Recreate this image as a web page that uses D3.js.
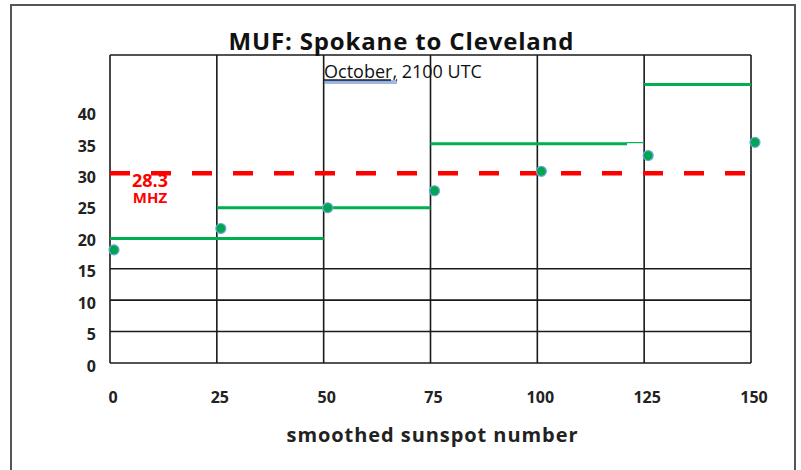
<!DOCTYPE html>
<html>
<head>
<meta charset="utf-8">
<script src="https://cdn.jsdelivr.net/npm/d3@7.9.0/dist/d3.min.js"></script>
<style>
  body { margin: 0; background: #fff; }
  svg { display: block; font-family: "Open Sans", Lato, sans-serif; }
</style>
</head>
<body>
<svg id="chart" width="801" height="470"></svg>
<script>
// sunspot numbers and predicted MUF (MHz)
const sunspots = [0, 25, 50, 75, 100, 125, 150];
const mufPoints = [18.0, 21.4, 24.7, 27.4, 30.5, 33.0, 35.1];

// green steps: [from, to, value]
const stepFrom = [0, 25, 75, 125];
const stepTo = [50, 75, 121, 150];
const stepValue = [19.8, 24.7, 34.9, 44.3];

const xTicks = [0, 25, 50, 75, 100, 125, 150];
const yTicks = [0, 5, 10, 15, 20, 25, 30, 35, 40];
const gridY = [0, 5, 10, 15];
const bandLevel = 30.2;
const bandLabel = ['28.3', 'MHZ'];

const svg = d3.select('#chart');

// outer frame
svg.append('rect')
  .attr('x', 11).attr('y', 5).attr('width', 784).attr('height', 480)
  .attr('fill', '#fff').attr('stroke', '#555').attr('stroke-width', 2);

const x = d3.scaleLinear().domain([0, 150]).range([110, 751]);
const y = d3.scaleLinear().domain([0, 49]).range([363, 55]);

// grid
const grid = svg.append('g').attr('stroke', '#1a1a1a').attr('stroke-width', 1.6);
grid.selectAll('.vx').data(xTicks).enter().append('line')
  .attr('x1', d => x(d)).attr('x2', d => x(d))
  .attr('y1', y(0)).attr('y2', y(49));
grid.selectAll('.hy').data(gridY).enter().append('line')
  .attr('x1', x(0)).attr('x2', x(150))
  .attr('y1', d => y(d)).attr('y2', d => y(d));
grid.append('line')
  .attr('x1', x(0)).attr('x2', x(150))
  .attr('y1', y(49)).attr('y2', y(49));

// tick labels
svg.append('g').selectAll('text').data(yTicks).enter().append('text')
  .attr('x', 96).attr('y', d => y(d) + 3).attr('dy', '0.35em')
  .attr('text-anchor', 'end')
  .attr('font-size', 16).attr('font-weight', 'bold').attr('fill', '#222')
  .text(d => d);

svg.append('g').selectAll('text').data(xTicks).enter().append('text')
  .attr('x', d => x(d) + 3).attr('y', 397).attr('dy', '0.35em')
  .attr('text-anchor', 'middle')
  .attr('font-size', 16).attr('font-weight', 'bold').attr('fill', '#222')
  .text(d => d);

svg.append('text')
  .attr('x', 432).attr('y', 435).attr('dy', '0.35em')
  .attr('text-anchor', 'middle')
  .attr('font-size', 20).attr('font-weight', 'bold').attr('fill', '#222')
  .attr('textLength', 291)
  .text('smoothed sunspot number');

// titles
svg.append('text')
  .attr('x', 401).attr('y', 42).attr('dy', '0.35em')
  .attr('text-anchor', 'middle')
  .attr('font-size', 24).attr('font-weight', 'bold').attr('fill', '#111')
  .attr('textLength', 345)
  .text('MUF: Spokane to Cleveland');

const sub = svg.append('text')
  .attr('x', 403).attr('y', 72).attr('dy', '0.35em')
  .attr('text-anchor', 'middle')
  .attr('font-size', 18).attr('fill', '#111');
sub.append('tspan').attr('text-decoration', 'underline').text('October,');
sub.append('tspan').text(' 2100 UTC');

const subBox = sub.node().getBBox();
const octW = sub.select('tspan').node().getComputedTextLength();
[81, 83].forEach(yy => {
  svg.append('line')
    .attr('x1', subBox.x).attr('x2', subBox.x + octW)
    .attr('y1', yy).attr('y2', yy)
    .attr('stroke', '#4472c4').attr('stroke-width', 1);
});

// band label
svg.append('g').selectAll('text').data(bandLabel).enter().append('text')
  .attr('x', 150).attr('y', (d, i) => 181 + i * 17).attr('dy', '0.35em')
  .attr('text-anchor', 'middle')
  .attr('font-size', (d, i) => i === 0 ? 18 : 15)
  .attr('font-weight', 'bold').attr('fill', '#ff0000')
  .text(d => d);

// green steps
svg.append('g').selectAll('line').data(stepValue).enter().append('line')
  .attr('x1', (d, i) => x(stepFrom[i]))
  .attr('x2', (d, i) => x(stepTo[i]))
  .attr('y1', d => y(d)).attr('y2', d => y(d))
  .attr('stroke', '#00b050').attr('stroke-width', 3);
// thin tail of the third step up to 125
svg.append('line')
  .attr('x1', x(stepTo[2])).attr('x2', x(stepFrom[3]))
  .attr('y1', y(stepValue[2]) - 1).attr('y2', y(stepValue[2]) - 1)
  .attr('stroke', '#00b050').attr('stroke-width', 1.2);

// red dashed level
svg.append('line')
  .attr('x1', x(0)).attr('x2', x(150))
  .attr('y1', y(bandLevel)).attr('y2', y(bandLevel))
  .attr('stroke', '#ff0000').attr('stroke-width', 4.5)
  .attr('stroke-dasharray', '20,21');

// points
svg.append('g').selectAll('circle').data(mufPoints).enter().append('circle')
  .attr('cx', (d, i) => x(sunspots[i]) + 4)
  .attr('cy', d => y(d))
  .attr('r', 5)
  .attr('fill', '#00a550')
  .attr('stroke', '#6fa8dc').attr('stroke-width', 1.2);
</script>
</body>
</html>
